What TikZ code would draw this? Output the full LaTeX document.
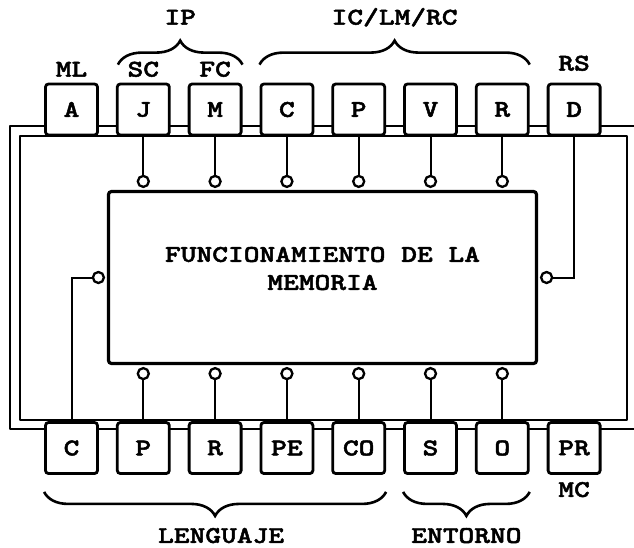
\documentclass[tikz,border=0pt]{standalone}
\usepackage{fontspec}
\newfontfamily\typefont{lmmonolt10-bold.otf}[FakeStretch=1.25, FakeBold=2]
\usetikzlibrary{positioning, decorations.pathreplacing, backgrounds}

\begin{document}
\begin{tikzpicture}[
    x=1pt, y=-1pt,
    node distance=17pt,
    font=\typefont\fontsize{24}{28}\selectfont,
    box/.style={rectangle, draw, rounded corners=3pt, line width=2.8pt, fill=white, minimum width=52pt, minimum height=51pt, inner sep=0pt},
    memory/.style={rectangle, draw, rounded corners=3pt, line width=3.2pt, fill=white, minimum width=428pt, minimum height=172pt},
    port/.style={circle, draw, line width=2.3pt, fill=white, minimum size=11pt, inner sep=0pt},
    bus/.style={line width=2.8pt, line join=round},
    wire/.style={line width=2pt},
    brace/.style={decorate, decoration={brace, amplitude=24pt}, line width=2.6pt},
    lbl/.style={inner sep=0pt, anchor=base}
]
\useasboundingbox (0,0) rectangle (634,547);

% upper row
\node[box] (tA) at (71.5,109.5) {A};
\node[box, right=of tA] (tJ) {J};
\node[box, right=of tJ] (tM) {M};
\node[box, right=of tM] (tC) {C};
\node[box, right=of tC] (tP) {P};
\node[box, right=of tP] (tV) {V};
\node[box, right=of tV] (tR) {R};
\node[box, right=of tR] (tD) {D};

% lower row
\node[box] (bC) at (71.5,448) {C};
\node[box, right=of bC] (bP) {P};
\node[box, right=of bP] (bR) {R};
\node[box, right=of bR] (bPE) {PE};
\node[box, right=of bPE] (bCO) {CO};
\node[box, right=of bCO] (bS) {S};
\node[box, right=of bS] (bO) {O};
\node[box, right=of bO] (bPR) {PR};

\node[memory] (mem) at (322.5,277.5) {};
\node[align=center, yshift=9pt] (memtxt) at (mem.center) {FUNCIONAMIENTO DE LA\\MEMORIA};

% ports on the memory block
\node[port, yshift=8.5pt] (pJ) at (tJ |- mem.north) {};
\node[port, yshift=8.5pt] (pM) at (tM |- mem.north) {};
\node[port, yshift=8.5pt] (pCt) at (tC |- mem.north) {};
\node[port, yshift=8.5pt] (pPt) at (tP |- mem.north) {};
\node[port, yshift=8.5pt] (pV) at (tV |- mem.north) {};
\node[port, yshift=8.5pt] (pRt) at (tR |- mem.north) {};
\node[port, yshift=-8.5pt] (pPb) at (bP |- mem.south) {};
\node[port, yshift=-8.5pt] (pRb) at (bR |- mem.south) {};
\node[port, yshift=-8.5pt] (pPE) at (bPE |- mem.south) {};
\node[port, yshift=-8.5pt] (pCO) at (bCO |- mem.south) {};
\node[port, yshift=-8.5pt] (pS) at (bS |- mem.south) {};
\node[port, yshift=-8.5pt] (pO) at (bO |- mem.south) {};
\node[port, xshift=-8.5pt] (pCb) at (mem.west) {};
\node[port, xshift=8.5pt] (pD) at (mem.east) {};

\draw[wire] (tJ) -- (pJ);
\draw[wire] (tM) -- (pM);
\draw[wire] (tC) -- (pCt);
\draw[wire] (tP) -- (pPt);
\draw[wire] (tV) -- (pV);
\draw[wire] (tR) -- (pRt);
\draw[wire] (tD) |- (pD);

\draw[wire] (bP) -- (pPb);
\draw[wire] (bR) -- (pRb);
\draw[wire] (bPE) -- (pPE);
\draw[wire] (bCO) -- (pCO);
\draw[wire] (bS) -- (pS);
\draw[wire] (bO) -- (pO);
\draw[wire] (bC) |- (pCb);

% double bus behind the boxes
\begin{scope}[on background layer]
\draw[bus] (634,126) -- (10,126) -- (10,429) -- (634,429);
\draw[bus] (20,136) rectangle (627,420);
\end{scope}

% labels
\node[lbl, yshift=6pt] (lML) at (tA.north) {ML};
\node[lbl, yshift=6pt] (lSC) at (tJ.north) {SC};
\node[lbl, yshift=6pt] (lFC) at (tM.north) {FC};
\node[lbl, yshift=12pt] (lRS) at (tD.north) {RS};
\node[lbl, yshift=-22pt] (lMC) at (bPR.south) {MC};

\draw[brace] ([xshift=2pt, yshift=18pt]tJ.north west) -- ([yshift=18pt]tM.north east)
    node[lbl, midway, yshift=40pt] (lIP) {IP};
\draw[brace] ([yshift=18pt]tC.north west) -- ([yshift=18pt]tR.north east)
    node[lbl, midway, yshift=40pt] (lIC) {IC/LM/RC};
\draw[brace] ([yshift=-17pt]bCO.south east) -- ([yshift=-17pt]bC.south west)
    node[lbl, midway, xshift=6pt, yshift=-51pt] (lLEN) {LENGUAJE};
\draw[brace] ([yshift=-17pt]bO.south east) -- ([yshift=-17pt]bS.south west)
    node[lbl, midway, yshift=-51pt] (lENT) {ENTORNO};

\end{tikzpicture}
\end{document}
